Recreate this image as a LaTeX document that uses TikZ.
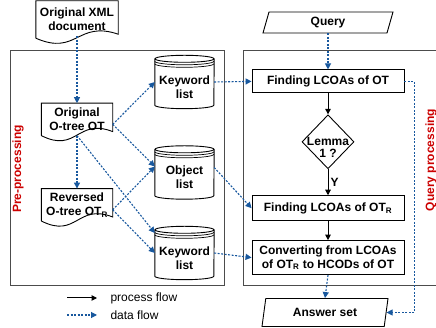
\documentclass[tikz,border=0pt]{standalone}
\usepackage{fontspec}
\setmainfont{Liberation Sans}
\usetikzlibrary{arrows.meta,calc,positioning,shapes.geometric}
\definecolor{flowblue}{RGB}{24,88,158}
\definecolor{stagered}{RGB}{204,0,0}

\begin{document}
\begin{tikzpicture}[
    x=1pt, y=1pt,
    font=\bfseries\fontsize{12}{14}\selectfont,
    box/.style={draw, line width=0.9pt, minimum width=152pt, inner sep=2pt, align=center},
    doc/.style={minimum width=71pt, minimum height=32pt, inner sep=1pt, align=center},
    db/.style={minimum width=59pt, minimum height=53pt, inner sep=0pt},
    dbtext/.style={align=center, inner sep=0pt, yshift=-5pt},
    lemma/.style={draw, line width=0.9pt, diamond, minimum width=52pt, minimum height=54pt, inner sep=0pt},
    io/.style={draw, line width=0.9pt, trapezium, trapezium stretches body, inner sep=1pt},
    panel/.style={draw=black!70, line width=0.9pt},
    stage/.style={text=stagered, rotate=90},
    legend/.style={font=\mdseries\fontsize{12}{14}\selectfont},
    proc/.style={-{Triangle[length=5.5pt,width=5.5pt]}, line width=1pt},
    data/.style={-{Triangle[length=6pt,width=6pt]}, draw=flowblue, line width=1.1pt, dash pattern=on 2pt off 1.5pt}
  ]
  \useasboundingbox (0,0) rectangle (436,328);

  % the two stages
  \draw[panel] (10,43) rectangle (224,278);
  \draw[panel] (243,43) rectangle (445,278);
  \node[stage] (pre) at (18,159) {Pre-processing};
  \node[stage] (qp) at (431,168) {Query processing};

  % pre-processing side
  \node[doc, minimum width=82pt, minimum height=37pt] (xml) at (77,308.5) {Original XML\\document};
  \node[doc, below=65pt of xml] (ot) {Original\\O-tree OT};
  \node[doc, below=53pt of ot] (rot) {Reversed\\O-tree OT\textsubscript{R}};
  \node[db, label={[dbtext]center:{Keyword\\list}}] (kw1) at (184.5,246) {};
  \node[db, label={[dbtext]center:{Object\\list}}] (obj) at (184.5,155.5) {};
  \node[db, label={[dbtext]center:{Keyword\\list}}] (kw2) at (184.5,75) {};

  % wavy bottoms of the documents
  \foreach \n in {xml,ot,rot}
    \draw[line width=0.9pt] (\n.south west) -- (\n.north west) -- (\n.north east) -- ([yshift=4pt]\n.south east)
      .. controls ($(\n.south)+(0,18pt)$) and ($(\n.south)+(0,-18pt)$) .. (\n.south west);

  % stacked disks
  \foreach \n in {kw1,obj,kw2} {
    \draw[line width=0.9pt] ([yshift=-3.5pt]\n.north west) -- ([yshift=3.5pt]\n.south west)
      arc[start angle=180, end angle=360, x radius=29.5pt, y radius=3.5pt]
      -- ([yshift=-3.5pt]\n.north east);
    \draw[line width=0.9pt] ([yshift=-3.5pt]\n.north) ellipse[x radius=29.5pt, y radius=3.5pt];
    \draw[line width=0.7pt] ([yshift=-6pt]\n.north west) arc[start angle=180, end angle=360, x radius=29.5pt, y radius=3.5pt];
    \draw[line width=0.7pt] ([yshift=-8.5pt]\n.north west) arc[start angle=180, end angle=360, x radius=29.5pt, y radius=3.5pt];
  }

  % query processing side
  \node[io, trapezium left angle=65, trapezium right angle=115, minimum width=130pt, minimum height=21pt] (query) at (328,305.5) {Query};
  \node[box, minimum height=23pt, below=36pt of query] (f1) {Finding LCOAs of OT};
  \node[lemma, below=21pt of f1, label={[dbtext, yshift=-1pt, font=\bfseries\fontsize{12}{12}\selectfont]center:{Lemma\\1 ?}}] (lem) {};
  \node[box, minimum height=25pt, below=26pt of lem] (f2) {Finding LCOAs of OT\textsubscript{R}};
  \node[box, minimum height=34pt, below=19pt of f2] (conv) {Converting from LCOAs\\of OT\textsubscript{R} to HCODs of OT};
  \node[io, trapezium left angle=70, trapezium right angle=110, minimum width=126pt, minimum height=28pt, below=23pt of conv, xshift=-3pt] (ans) {Answer set};

  % data flow
  \draw[data] ([yshift=2pt]xml.south) -- (ot.north);
  \draw[data] (ot.south) -- (rot.north);
  \draw[data] ([yshift=-5pt]ot.east) -- (kw1.west);
  \draw[data] ([yshift=-5pt]ot.east) -- ([yshift=6pt]obj.west);
  \draw[data] (ot.south) -- ([yshift=20pt]kw2.west);
  \draw[data] ([yshift=-5pt]rot.east) -- ([yshift=6pt]obj.west);
  \draw[data] ([yshift=-5pt]rot.east) -- (kw2.west);
  \draw[data] (kw1.east) -- (f1.west);
  \draw[data] ([yshift=5pt]obj.east) -- (f2.west);
  \draw[data] (kw2.east) -- (conv.west);
  \draw[data] (query.south) -- (f1.north);
  \draw[data] (conv.south) -- (ans.north);
  \draw[data] (f1.east) -- ++(10pt,0) |- (ans.east);

  % process flow
  \draw[proc] (f1) -- (lem);
  \draw[proc] (lem) -- node[right, inner sep=2pt] {Y} (f2);
  \draw[proc] (f2) -- (conv);

  % legend
  \coordinate (pa) at (67,30);
  \coordinate (pb) at (97,30);
  \coordinate (da) at (67,13);
  \coordinate (db) at (97,13);
  \draw[proc] (pa) -- (pb);
  \draw[data] (da) -- (db);
  \node[legend, right=10pt of pb] (ptext) {process flow};
  \node[legend, right=10pt of db] (dtext) {data flow};
\end{tikzpicture}
\end{document}
